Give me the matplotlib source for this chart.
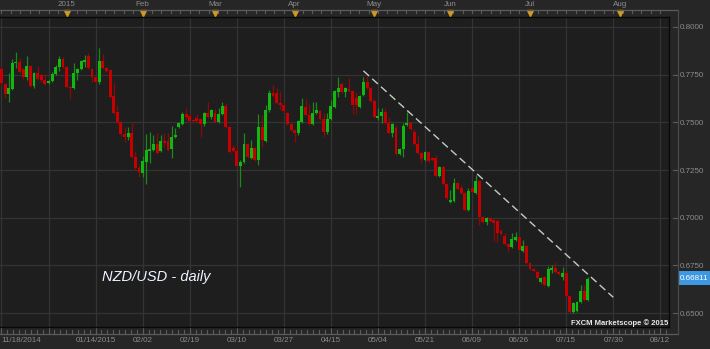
import matplotlib
matplotlib.use('Agg')
import matplotlib.pyplot as plt
import matplotlib.transforms as mtransforms
from matplotlib.lines import Line2D
from matplotlib.patches import Rectangle
import numpy as np

# NZD/USD daily candles, 11/18/2014 .. 07/22/2015
opens = [.7780, .7701, .7649, .7675, .7811, .7816, .7780, .7738, .7796, .7691,
         .7759, .7748, .7722, .7706, .7717, .7754, .7790, .7832, .7790, .7685,
         .7680, .7759, .7780, .7816, .7848, .7780, .7738, .7712, .7822, .7785,
         .7775, .7638, .7554, .7502, .7439, .7423, .7444, .7318, .7261, .7234,
         .7292, .7350, .7355, .7387, .7350, .7402, .7402, .7360, .7423, .7476,
         .7491, .7544, .7533, .7512, .7523, .7518, .7491, .7549, .7528, .7549,
         .7502, .7544, .7586, .7476, .7366, .7350, .7271, .7292, .7387, .7313,
         .7366, .7303, .7476, .7402, .7565, .7654, .7654, .7602, .7591, .7549,
         .7491, .7460, .7444, .7502, .7581, .7539, .7491, .7549, .7560, .7518,
         .7449, .7518, .7581, .7659, .7701, .7659, .7675, .7664, .7628, .7581,
         .7643, .7712, .7680, .7612, .7523, .7533, .7554, .7497, .7444, .7470,
         .7334, .7360, .7486, .7497, .7449, .7387, .7339, .7303, .7345, .7313,
         .7313, .7219, .7266, .7177, .7082, .7088, .7182, .7156, .7130, .7040,
         .7156, .7130, .7193, .7004, .6978, .6999, .6988, .6983, .6930, .6904,
         .6862, .6847, .6883, .6899, .6826, .6852, .6763, .6731, .6715, .6663,
         .6689, .6642, .6726, .6736, .6715, .6689, .6710, .6590, .6506, .6511,
         .6558, .6616, .6569]
highs = [.7790, .7706, .7759, .7832, .7869, .7837, .7785, .7848, .7801, .7764,
         .7796, .7754, .7754, .7722, .7764, .7801, .7848, .7843, .7796, .7691,
         .7811, .7785, .7827, .7853, .7864, .7785, .7743, .7890, .7858, .7790,
         .7780, .7706, .7591, .7507, .7476, .7476, .7497, .7350, .7276, .7324,
         .7439, .7449, .7434, .7444, .7434, .7444, .7444, .7481, .7470, .7502,
         .7554, .7575, .7549, .7518, .7544, .7523, .7554, .7607, .7570, .7570,
         .7575, .7607, .7602, .7481, .7381, .7376, .7303, .7444, .7392, .7408,
         .7371, .7544, .7539, .7591, .7670, .7696, .7680, .7664, .7602, .7554,
         .7497, .7465, .7512, .7628, .7622, .7596, .7607, .7607, .7565, .7549,
         .7549, .7617, .7670, .7738, .7712, .7685, .7733, .7670, .7659, .7643,
         .7738, .7748, .7685, .7622, .7575, .7575, .7575, .7528, .7497, .7486,
         .7366, .7497, .7554, .7502, .7465, .7428, .7345, .7350, .7350, .7318,
         .7329, .7271, .7271, .7182, .7146, .7208, .7188, .7172, .7135, .7156,
         .7161, .7224, .7198, .7009, .7004, .7004, .6993, .6988, .6941, .6920,
         .6867, .6920, .6925, .6904, .6883, .6857, .6768, .6736, .6726, .6689,
         .6694, .6747, .6752, .6768, .6721, .6742, .6715, .6595, .6558, .6563,
         .6647, .6647, .6689]
lows = [.7696, .7628, .7607, .7670, .7785, .7759, .7727, .7722, .7685, .7680,
        .7722, .7712, .7696, .7701, .7712, .7748, .7769, .7785, .7680, .7622,
        .7675, .7722, .7775, .7790, .7780, .7712, .7706, .7701, .7780, .7764,
        .7628, .7544, .7491, .7428, .7397, .7408, .7313, .7250, .7214, .7214,
        .7177, .7287, .7350, .7334, .7345, .7371, .7350, .7313, .7418, .7470,
        .7486, .7512, .7502, .7502, .7502, .7423, .7481, .7523, .7518, .7497,
        .7497, .7539, .7470, .7339, .7345, .7266, .7161, .7287, .7313, .7308,
        .7297, .7276, .7371, .7397, .7554, .7633, .7596, .7565, .7554, .7486,
        .7455, .7397, .7434, .7497, .7533, .7486, .7486, .7544, .7512, .7423,
        .7439, .7512, .7575, .7633, .7654, .7633, .7659, .7544, .7544, .7575,
        .7638, .7675, .7607, .7523, .7512, .7497, .7491, .7439, .7423, .7329,
        .7329, .7318, .7481, .7460, .7381, .7334, .7287, .7297, .7292, .7297,
        .7214, .7214, .7172, .7093, .7077, .7082, .7146, .7124, .7035, .7035,
        .7130, .7124, .6962, .6972, .6962, .6978, .6878, .6873, .6909, .6857,
        .6820, .6841, .6878, .6826, .6820, .6757, .6726, .6715, .6679, .6658,
        .6642, .6637, .6710, .6710, .6700, .6674, .6584, .6501, .6501, .6506,
        .6553, .6563, .6563]
closes = [.7706, .7649, .7680, .7811, .7816, .7764, .7738, .7796, .7691, .7759,
          .7727, .7722, .7701, .7717, .7754, .7790, .7832, .7790, .7685, .7680,
          .7759, .7780, .7822, .7827, .7785, .7738, .7712, .7822, .7785, .7769,
          .7633, .7549, .7502, .7439, .7423, .7444, .7318, .7261, .7240, .7297,
          .7355, .7360, .7387, .7339, .7402, .7392, .7355, .7423, .7434, .7497,
          .7544, .7528, .7507, .7507, .7507, .7491, .7549, .7528, .7565, .7502,
          .7544, .7586, .7476, .7345, .7350, .7271, .7292, .7387, .7318, .7366,
          .7303, .7476, .7408, .7565, .7654, .7638, .7602, .7591, .7560, .7491,
          .7460, .7444, .7507, .7586, .7539, .7491, .7549, .7565, .7518, .7449,
          .7518, .7586, .7664, .7680, .7659, .7680, .7664, .7591, .7591, .7638,
          .7712, .7680, .7612, .7528, .7533, .7554, .7497, .7444, .7491, .7334,
          .7360, .7481, .7497, .7465, .7387, .7339, .7308, .7345, .7297, .7303,
          .7219, .7266, .7177, .7103, .7093, .7182, .7151, .7130, .7040, .7140,
          .7135, .7193, .7004, .6978, .6999, .6983, .6972, .6920, .6915, .6862,
          .6847, .6888, .6899, .6831, .6852, .6763, .6731, .6721, .6684, .6684,
          .6647, .6731, .6736, .6715, .6705, .6710, .6590, .6506, .6553, .6558,
          .6616, .6569, .6681]

last_price = 0.66811

# bottom date labels, one every 13 bars ('' = gridline without label)
date_labels = ['11/18/2014', '', '01/14/2015', '02/02', '02/19', '03/10', '03/27',
               '04/15', '05/04', '05/21', '06/09', '06/26', '07/15', '07/30', '08/12']
# month markers on the top ruler (bar index of first trading day)
month_bars = [18, 39, 59, 81, 103, 124, 146, 171]
month_labels = ['2015', 'Feb', 'Mar', 'Apr', 'May', 'Jun', 'Jul', 'Aug']
price_ticks = [0.65, 0.675, 0.70, 0.725, 0.75, 0.775, 0.80]

# dashed resistance line (bar index, price)
trend_x = [100, 169]
trend_y = [0.7770, 0.6583]

W, H = 710, 349
BG = '#262626'
PLOT_BG = '#1e1e1e'
GRID = '#343434'
AXTXT = '#8c8c8c'
UP, DOWN = '#10b810', '#c40000'
UP_WICK, DOWN_WICK = '#1a8a1a', '#8e0808'

plt.rcParams['font.family'] = ['Liberation Sans', 'DejaVu Sans']
fig = plt.figure(figsize=(W / 100, H / 100), dpi=100, facecolor=BG)
ax = fig.add_axes([0, 22 / H, 669 / W, 310 / H], facecolor=PLOT_BG)

n = len(opens)
x = np.arange(n)
o = np.array(opens); c = np.array(closes)
hi = np.array(highs); lo = np.array(lows)
up = c >= o
body_lo = np.minimum(o, c)
body_h = np.maximum(np.abs(c - o), 0.0004)

ax.vlines(x, lo, hi, colors=np.where(up, UP_WICK, DOWN_WICK), lw=0.9, zorder=2)
ax.bar(x, body_h, bottom=body_lo, width=0.8, color=np.where(up, UP, DOWN),
       linewidth=0, antialiased=False, zorder=3)

ax.plot(trend_x, trend_y, color='#c3ccc3', lw=1.0, dashes=(5.5, 3), zorder=4)

ax.set_xlim(-0.4, 184.4)
ax.set_ylim(0.64271, 0.80524)

# grid + ticks
xt = np.arange(len(date_labels)) * 13
ax.set_xticks(xt)
ax.set_xticklabels(date_labels)
ax.get_xticklabels()[0].set_horizontalalignment('left')
ax.set_yticks(price_ticks)
ax.set_yticklabels([f'{v:.4f}' for v in price_ticks])
ax.yaxis.tick_right()
ax.tick_params(axis='x', length=0, pad=7.5, labelsize=5.8, labelcolor=AXTXT)
ax.tick_params(axis='y', length=0, pad=8, labelsize=5.8, labelcolor=AXTXT)
ax.grid(True, color=GRID, lw=0.9)
ax.set_axisbelow(True)
for side, sp in ax.spines.items():
    sp.set_color('#080808')
    sp.set_linewidth(1.0)
ax.spines['left'].set_visible(False)

# rulers drawn in figure pixels
def fx(px):
    return px / W

def fy(py):
    return 1 - py / H

ruler = '#5c5c5c'
fig.add_artist(Line2D([fx(0), fx(678)], [fy(10), fy(10)], color=ruler, lw=0.9))
fig.add_artist(Line2D([fx(0), fx(678)], [fy(334), fy(334)], color=ruler, lw=0.9))
fig.add_artist(Line2D([fx(678), fx(678)], [fy(10), fy(334)], color='#4a4a4a', lw=0.9))

bx = mtransforms.blended_transform_factory(ax.transData, fig.transFigure)
for t in np.arange(0, 184, 13 / 5):
    ax.plot([t, t], [fy(10), fy(13)], color=ruler, lw=0.8, transform=bx, clip_on=False)
for t in np.arange(0, 184, 13 / 8):
    ax.plot([t, t], [fy(334), fy(330)], color=ruler, lw=0.8, transform=bx, clip_on=False)
for t in xt:
    ax.plot([t, t], [fy(334), fy(327)], color=ruler, lw=0.8, transform=bx, clip_on=False)

ax.plot(month_bars, [fy(13)] * len(month_bars), 'v', color='#d09a1c', ms=4.5,
        transform=bx, clip_on=False, zorder=5)
for b, lab in zip(month_bars, month_labels):
    ax.text(b, fy(5), lab, transform=bx, ha='center', va='center',
            fontsize=5.8, color=AXTXT)

by = mtransforms.blended_transform_factory(fig.transFigure, ax.transData)
for v in price_ticks:
    ax.plot([fx(673), fx(678)], [v, v], color=ruler, lw=0.8, transform=by, clip_on=False)

# last price tag
fig.add_artist(Rectangle((fx(678), fy(285)), fx(32), 14 / H, facecolor='#3d98e3',
                         edgecolor='none'))
fig.text(fx(694), fy(278), f'{last_price:.5f}', ha='center', va='center',
         fontsize=5.8, color='white')

fig.text(fx(102), fy(277), 'NZD/USD - daily', ha='left', va='center',
         fontsize=10.5, style='italic', color='#eef3ff')
fig.text(fx(668), fy(323), 'FXCM Marketscope \u00a9 2015', ha='right', va='center',
         fontsize=5.5, fontweight='bold', color='#e8e8e8')

fig.savefig('out.png', dpi=100, facecolor=BG)
